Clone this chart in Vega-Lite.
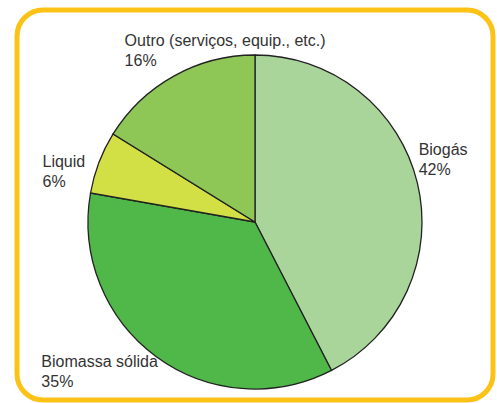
{
  "$schema": "https://vega.github.io/schema/vega-lite/v6.json",
  "width": 476,
  "height": 390,
  "autosize": {"type": "none"},
  "padding": {"left": 17, "top": 10, "right": 4, "bottom": 3},
  "background": "white",
  "config": {"view": {"stroke": null}},
  "data": {
    "values": [
      {"cat": "Biogás", "pct": 42, "ord": 1, "label": "Biogás\n42%"},
      {"cat": "Biomassa sólida", "pct": 35, "ord": 2, "label": "Biomassa sólida\n35%"},
      {"cat": "Liquid", "pct": 6, "ord": 3, "label": "Liquid\n6%"},
      {"cat": "Outro", "pct": 16, "ord": 4, "label": "Outro (serviços, equip., etc.)\n16%"}
    ]
  },
  "layer": [
    {
      "data": {"values": [{"frame": 1}]},
      "mark": {"type": "rect", "fill": null, "stroke": "#fcc316", "strokeWidth": 5, "cornerRadius": 26},
      "encoding": {}
    },
    {
      "mark": {"type": "arc", "radius": 167, "stroke": "#222222", "strokeWidth": 1.3, "yOffset": 17},
      "encoding": {
        "theta": {"field": "pct", "type": "quantitative", "stack": true},
        "order": {"field": "ord", "type": "quantitative"},
        "color": {
          "field": "cat",
          "type": "nominal",
          "scale": {
            "domain": ["Biogás", "Biomassa sólida", "Liquid", "Outro"],
            "range": ["#a9d59b", "#4fb848", "#d2df45", "#8fc757"]
          },
          "legend": null
        }
      }
    },
    {
      "mark": {
        "type": "text",
        "radius": 190,
        "yOffset": 17,
        "align": "left",
        "baseline": "alphabetic",
        "font": "Liberation Sans",
        "fontSize": 16,
        "color": "#333333",
        "lineHeight": 20,
        "lineBreak": "\n",
        "dx": {"expr": "datum.ord == 1 ? -21 : datum.ord == 2 ? -101 : datum.ord == 3 ? -35 : -38"},
        "dy": {"expr": "datum.ord == 1 ? -22 : datum.ord == 2 ? -8 : datum.ord == 3 ? 13 : -10"}
      },
      "encoding": {
        "theta": {"field": "pct", "type": "quantitative", "stack": true},
        "order": {"field": "ord", "type": "quantitative"},
        "text": {"field": "label"}
      }
    }
  ]
}
